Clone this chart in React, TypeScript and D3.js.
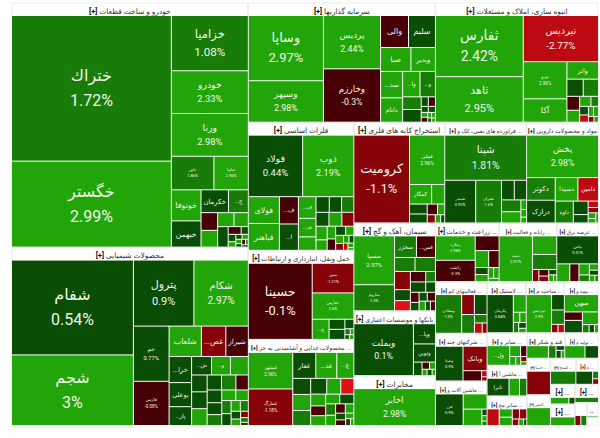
import React from 'react';
import * as d3 from 'd3';

type Stock = [string, number, number]; // name, change %, weight

const W = 600;
const H = 438;
const chart = { left: 12, top: 3, width: 586, height: 422 };

// small cells carry no readable label, their change is estimated from the colour
const khodro: Stock[] = [
  ['ختراك', 1.72, 22608], ['خگستر', 2.99, 13345], ['خزامیا', 1.08, 4134], ['خودرو', 2.33, 3198], ['ورنا', 2.98, 3198],
  ['خاور', 1.86, 1386], ['سایپا', 2.96, 1122], ['خوتوفا', 2.6, 896], ['خبهمن', 0.5, 756], ['خکرمان', 0.6, 609],
  ['...ج', 1.5, 441], ['', -0.5, 285], ['', 2.5, 270], ['', 2.5, 221], ['', 2.4, 195], ['', 0.5, 210], ['', -0.6, 98],
  ['', 0.4, 54], ['', 0.4, 54], ['', 2.5, 40], ['', 0.5, 30], ['', 2.5, 30], ['', 2.5, 25], ['', 0.5, 20], ['', -0.5, 20], ['', 2.5, 15], ['', 0.5, 15],
];
const shimi: Stock[] = [
  ['شفام', 0.54, 11280], ['شجم', 3, 8400], ['پترول', 0.9, 3900], ['شکام', 2.97, 3510], ['جم', 0.77, 1925], ['فارس', -0.08, 1540],
  ['شلعاب', 2.6, 957], ['...غص', -1.5, 725], ['شیراز', -0.5, 667], ['...خرا', 0.6, 575], ['بوعلی', 0.7, 529], ['...پار', 0.5, 414],
  ['...ش', 0.5, 360], ['...و', 2.4, 342], ['', 2.6, 324], ['', 0.5, 255], ['', 0.6, 255], ['', 2.5, 255], ['', 0.5, 210], ['', 1.5, 210],
  ['', -0.4, 182], ['', 0.5, 182], ['', 0.4, 170], ['', 1.5, 155], ['', 2.5, 145], ['', 2.6, 130], ['', 1.5, 120], ['', 0.5, 108],
  ['', 2.5, 96], ['', 1.5, 84], ['', 0.5, 72], ['', 2.5, 60], ['', -1.5, 48], ['', 1.5, 36], ['', 0.5, 24],
];
const sarmaye: Stock[] = [
  ['وساپا', 2.97, 4599], ['وسپهر', 2.98, 2920], ['پردیس', 2.44, 2860], ['وخارزم', -0.3, 2860], ['والی', -0.5, 840], ['سلیم', 0.5, 810],
  ['صبا', 2.6, 682], ['وبدیر', 2.5, 550], ['...سد', 2.7, 546], ['دانام', 2.6, 504], ['...وا', 2.5, 414], ['...و', 1.5, 368],
  ['', 1.5, 221], ['', 0.5, 221], ['', 0.5, 64], ['', -0.5, 64], ['', 0.5, 40], ['', 0.4, 40], ['', 2.5, 30], ['', -0.5, 30], ['', 2.5, 20], ['', 2.5, 20], ['', 0.5, 15], ['', 2.5, 15],
];
const abnieh: Stock[] = [
  ['ثفارس', 2.42, 5100], ['ثاهد', 2.95, 3800], ['تیردیس', -2.77, 3300], ['نیرو', 2.96, 1540], ['آکا', 2.7, 968], ['واثر', 2.6, 525], ['', 0.5, 266],
  ['', 1.5, 250], ['', -0.5, 168], ['', 2.5, 144], ['', 2.5, 108], ['', 1.5, 72], ['', 0.5, 72], ['', -2.5, 60], ['', 2.5, 48], ['', 2.5, 48], ['', -1.5, 30], ['', 2.5, 25],
];
const felezat: Stock[] = [
  ['فولاد', 0.44, 3127], ['ذوب', 2.19, 2950], ['فولای', 2.6, 780], ['فباهنر', 2.6, 780], ['...ف', -0.5, 486], ['...ا', 0.5, 468], ['...ف', 2.5, 357], ['...فز', 2.4, 306],
  ['', 2.5, 221], ['', 0.5, 195], ['', 0.5, 180], ['', 1.5, 180], ['', 0.5, 169], ['', 2.5, 169], ['', -1.5, 156], ['', 2.5, 143], ['', 2.5, 110],
  ['', 2.5, 100], ['', -0.5, 90], ['', 0.5, 85], ['', 2.5, 70], ['', 2.5, 60], ['', -1.5, 50], ['', 2.5, 40], ['', 0.5, 35], ['', -2.5, 30], ['', 2.5, 25], ['', 2.5, 15],
];
const haml: Stock[] = [
  ['حسینا', -0.1, 4575], ['مبین', -1.21, 1161], ['حفارس', 2.6, 1032], ['...ج', 2.5, 320], ['', 0.5, 150], ['', 0.5, 150], ['', 0.5, 80], ['', 1.5, 30], ['', 2.5, 20], ['', 0.5, 20], ['', 2.5, 20],
];
const ghazaei: Stock[] = [
  ['غبشهر', 2.96, 1435], ['غمارگ', -1.18, 1435], ['غفار', 0.6, 529], ['...غد', 2.5, 483], ['...غ', 2.6, 391], ['', 0.5, 255], ['', 2.5, 255], ['', 1.5, 238],
  ['', 0.5, 224], ['', 2.5, 196], ['', -3.2, 182], ['', 2.5, 156], ['', -0.5, 130], ['', 2.5, 130], ['', 2.5, 121], ['', 0.5, 121], ['', 1.5, 100], ['', 2.5, 90],
  ['', -0.5, 80], ['', 2.5, 70], ['', 0.5, 60], ['', -0.5, 50], ['', 2.5, 40], ['', 0.5, 30], ['', 2.5, 20],
];
const estekhraj: Stock[] = [
  ['کرومیت', -1.1, 4452], ['فملی', 2.96, 1584], ['کمگار', 2.6, 396], ['', 2.5, 234], ['', 0.5, 160], ['', 0.5, 144], ['', -0.5, 100], ['', 2.5, 70], ['', -1.5, 60], ['', 2.5, 40], ['', 0.5, 30],
];
const palayesh: Stock[] = [
  ['شپنا', 1.81, 3360], ['شبندر', 0.92, 1200], ['شتران', 1.6, 1000], ['', 0.5, 228], ['', 0.5, 220], ['', 1.5, 209], ['', 2.5, 196], ['', 2.5, 50], ['', 2.5, 40], ['', 2.5, 30],
];
const mavad: Stock[] = [
  ['پخش', 2.98, 2769], ['دکوتر', 1.5, 588], ['درازک', 0.5, 588], ['دسیدا', 2.6, 484], ['دامین', -2.5, 440], ['داوه', 1.5, 357], ['', 0.5, 182], ['', 0.5, 112],
  ['', -2.5, 60], ['', -1.5, 50], ['', 2.5, 40], ['', 2.5, 30], ['', 2.5, 25],
];
const siman: Stock[] = [
  ['سسپا', 2.97, 1645], ['ساروم', 1.5, 875], ['سخزر', 1.5, 391], ['...فس', -0.5, 340], ['', 1.5, 238], ['', 1.5, 238], ['', -1.5, 238], ['', 0.5, 144], ['', -3.5, 132], ['', -0.5, 132],
  ['', 1.5, 84], ['', 0.5, 132], ['', 0.5, 84], ['', -0.5, 72], ['', 0.5, 60], ['', 0.5, 60], ['', -0.5, 60], ['', 2.5, 50], ['', 0.5, 40], ['', -0.5, 40],
];
const bank: Stock[] = [
  ['وبملت', 0.1, 2907], ['...وپا', 0.5, 420], ['وتوبن', 0.4, 378], ['', 0.5, 110], ['', -0.5, 50], ['', 2.5, 40], ['', 2.5, 30], ['', 0.5, 30], ['', 2.5, 20],
];
const mokhaberat: Stock[] = [['اخابر', 2.98, 2844]];
const zeraat: Stock[] = [['زملارد', 2.98, 828], ['زکشت', -0.3, 720], ['', -0.5, 300], ['', 2.5, 195], ['', -0.5, 150], ['', 0.5, 78], ['', 2.5, 78], ['', 2.5, 50], ['', 2.5, 50], ['', 2.5, 30]];
const rayane: Stock[] = [['سپ', 2.91, 1408], ['', 2.6, 416], ['', 1.5, 338], ['', -1.5, 72], ['', -0.5, 60], ['', -1.5, 50], ['', 0.5, 40], ['', 2.5, 30], ['', 2.5, 20]];
const barq: Stock[] = [['بپاس', 0.51, 1012], ['', 2.5, 200], ['', -0.6, 140], ['', 2.5, 100], ['', 1.5, 60], ['', 2.5, 50], ['', 0.5, 40], ['', 2.5, 30], ['', 1.5, 20]];
const faaliyat: Stock[] = [['ومعادن', 1.5, 912], ['', -1.5, 228], ['', 0.5, 228], ['', 1.5, 216], ['', 1.5, 96], ['', -2.5, 72], ['', -1.5, 45]];
const sherkat: Stock[] = [['وصنا', 0.9, 858], ['وبانک', -1.5, 528], ['', -0.5, 171], ['', -2.5, 30], ['', -1.5, 20]];
const mashinAlat: Stock[] = [['فزر', 0.9, 775], ['', 2.5, 322], ['', 2.5, 272], ['', 0.5, 30], ['', 2.5, 25], ['', 1.5, 20]];
const lastik: Stock[] = [['پکرمان', 0.84, 912], ['', 2.5, 208], ['', 2.5, 60], ['', 2.5, 60], ['', 1.5, 50], ['', 0.5, 40], ['', 2.5, 30]];
const sakht: Stock[] = [['ثپردیس', 2.9, 888], ['', 0.5, 182], ['', 1.5, 169], ['', -1.5, 49], ['', -2.5, 49]];
const bime: Stock[] = [['میهن', 2.6, 546], ['', -0.5, 140], ['', 0.5, 204], ['', 2.5, 187], ['', 1.5, 50], ['', 0.5, 40], ['', 2.5, 30]];
const sayer: Stock[] = [['...ول', 2.6, 414], ['', 2.5, 110], ['', -0.5, 63], ['', 2.5, 50], ['', 2.5, 40], ['', -1.5, 30], ['', 2.5, 20]];
const mashinAb: Stock[] = [['تایرا', 0.7, 336], ['', 2.5, 160], ['', 1.5, 112]];
const sayerMali: Stock[] = [['', -2.5, 192], ['', 2.5, 104], ['', 2.5, 104], ['', -1.5, 70], ['', -1.5, 70], ['', -1.5, 40], ['', 2.5, 30], ['', 0.5, 20]];
const ghand: Stock[] = [['', 2.5, 200], ['', 1.5, 70], ['', 0.5, 30], ['', 0.5, 30], ['', 2.5, 20]];
const tolid: Stock[] = [['', 2.5, 180], ['', 0.5, 120]];
const khadamat: Stock[] = [['', -1.5, 300]];
const kashi: Stock[] = [['', 2.5, 210]];
const estekhrajNaft: Stock[] = [['', 1.5, 180]];
const tamin: Stock[] = [['', 0.5, 200], ['', 1.5, 40], ['', -1.5, 30]];
const chand: Stock[] = [['', 2.5, 182], ['', 0.5, 60]];
const hamlo: Stock[] = [['', 2.5, 144]];
const dar: Stock[] = [['', 1.5, 108]];
const sanat: Stock[] = [['', -1.5, 12], ['', 1.5, 12]];
const kagh: Stock[] = [['', 2.5, 4]];
const charm: Stock[] = [['', 2.5, 3]];

const sectors = [
  { title: 'خودرو و ساخت قطعات', cap: 57584, stocks: khodro },
  { title: 'محصولات شیمیایی', cap: 42008, stocks: shimi },
  { title: 'سرمایه گذاریها', cap: 22253, stocks: sarmaye },
  { title: 'انبوه سازی، املاک و مستغلات', cap: 19397, stocks: abnieh },
  { title: 'فلزات اساسی', cap: 13440, stocks: felezat },
  { title: 'حمل ونقل، انبارداری و ارتباطات', cap: 9345, stocks: haml },
  { title: 'محصولات غذایی و آشامیدنی به جز ...', cap: 9030, stocks: ghazaei },
  { title: 'استخراج کانه های فلزی', cap: 9100, stocks: estekhraj },
  { title: 'فراورده های نفتی، کک و ...', cap: 8200, stocks: palayesh },
  { title: 'مواد و محصولات دارویی', cap: 7200, stocks: mavad },
  { title: 'سیمان، آهک و گچ', cap: 7128, stocks: siman },
  { title: 'بانکها و موسسات اعتباری', cap: 5265, stocks: bank },
  { title: 'مخابرات', cap: 4050, stocks: mokhaberat },
  { title: 'زراعت و خدمات ...', cap: 3712, stocks: zeraat },
  { title: 'رایانه و فعالیت ...', cap: 3364, stocks: rayane },
  { title: 'عرضه برق ...', cap: 2436, stocks: barq },
  { title: 'فعالیتهای کم ...', cap: 2652, stocks: faaliyat },
  { title: 'شرکتهای چند ...', cap: 2444, stocks: sherkat },
  { title: 'ماشین آلات و ...', cap: 2288, stocks: mashinAlat },
  { title: 'لاستیک ...', cap: 1989, stocks: lastik },
  { title: 'ساخت م ...', cap: 1938, stocks: sakht },
  { title: 'بیمه و ...', cap: 1734, stocks: bime },
  { title: 'سایر و ...', cap: 1287, stocks: sayer },
  { title: 'ماشین آ ...', cap: 1209, stocks: mashinAb },
  { title: 'سایر مح ...', cap: 1170, stocks: sayerMali },
  { title: 'قند و شکر', cap: 962, stocks: ghand },
  { title: 'تولید م ...', cap: 858, stocks: tolid },
  { title: 'خدما ...', cap: 858, stocks: khadamat },
  { title: 'کاشی ...', cap: 726, stocks: kashi },
  { title: 'استخ ...', cap: 660, stocks: estekhrajNaft },
  { title: 'ه ...', cap: 588, stocks: tamin },
  { title: '...', cap: 476, stocks: chand },
  { title: '...', cap: 525, stocks: hamlo },
  { title: '...', cap: 425, stocks: dar },
  { title: '', cap: 270, stocks: sanat },
  { title: '...', cap: 170, stocks: kagh },
  { title: '', cap: 100, stocks: charm },
];

// these cells print name and change in tiny type although they are small
const tinyLabels = ['ساروم', 'ومعادن', 'وصنا', 'فزر', 'پکرمان', 'ثپردیس', 'زملارد', 'زکشت', 'سپ', 'بپاس', 'حفارس'];

// the picture uses stepped colours, one per whole percent
const color = d3
  .scaleThreshold<number, string>()
  .domain([-3, -2, -1, 0, 1, 2])
  .range(['#e01018', '#bd0a12', '#860409', '#470005', '#0a4d05', '#187c08', '#22a509']);

const tree = {
  children: sectors.map(s => {
    const total = d3.sum(s.stocks, d => d[2]);
    return {
      title: s.title,
      children: s.stocks.map(d => ({ name: d[0], pct: d[1], cap: (d[2] / total) * s.cap })),
    };
  }),
};

const root = d3
  .treemap<any>()
  .size([chart.width, chart.height])
  .tile(d3.treemapSquarify.ratio(1))
  .paddingInner(1)
  .paddingTop(d => (d.depth === 1 ? 13 : 0))(d3.hierarchy<any>(tree).sum(d => d.cap || 0));

const bothSize = d3.scaleLinear().domain([37, 80]).range([4, 16]).clamp(true);

function Label({ leaf }: { leaf: any }) {
  const w = leaf.x1 - leaf.x0;
  const h = leaf.y1 - leaf.y0;
  const area = w * h;
  const { name, pct } = leaf.data;
  if (!name) return null;
  const cx = (leaf.x0 + leaf.x1) / 2;
  const cy = (leaf.y0 + leaf.y1) / 2;
  const text = { fill: '#f1f5ea', textAnchor: 'middle' as const };
  if (area < 1000 && !tinyLabels.includes(name)) {
    const size = Math.max(4.5, Math.min(8, Math.sqrt(area) / 3.5));
    return <text x={cx} y={cy + size / 3} fontSize={size} {...text}>{name}</text>;
  }
  const size = bothSize(Math.sqrt(area));
  return (
    <g>
      <text x={cx} y={cy - size * 0.45} fontSize={size} {...text}>{name}</text>
      <text x={cx} y={cy + size * 1.1} fontSize={size} {...text}>{`${pct}%`}</text>
    </g>
  );
}

function titleSize(g: any) {
  const chars = g.data.title.length + 4;
  return Math.min(7.5, (g.x1 - g.x0 - 3) / (chars * 0.44));
}

export default function App() {
  const groups = root.children || [];
  return (
    <svg
      width={W}
      height={H}
      style={{ position: 'absolute', left: 0, top: 0, background: '#fff' }}
      fontFamily="Roboto, 'DejaVu Sans', sans-serif"
    >
      <g transform={`translate(${chart.left},${chart.top})`}>
        {groups.map((g: any, i: number) => (
          <g key={i}>
            <rect x={g.x0} y={g.y0} width={g.x1 - g.x0} height={g.y1 - g.y0} fill="#fff" stroke="#d8d8d8" strokeWidth={0.5} />
            {g.data.title && (
              <text x={(g.x0 + g.x1) / 2} y={g.y0 + 10.5} fontSize={titleSize(g)} fill="#333" textAnchor="middle">
                <tspan fontWeight="bold" fill="#111">[+]</tspan> {g.data.title}
              </text>
            )}
            {(g.children || []).map((d: any, j: number) =>
              d.y1 > d.y0 ? (
                <g key={j}>
                  <rect x={d.x0} y={d.y0} width={d.x1 - d.x0} height={d.y1 - d.y0} fill={color(d.data.pct)} />
                  <Label leaf={d} />
                </g>
              ) : null
            )}
          </g>
        ))}
      </g>
    </svg>
  );
}
